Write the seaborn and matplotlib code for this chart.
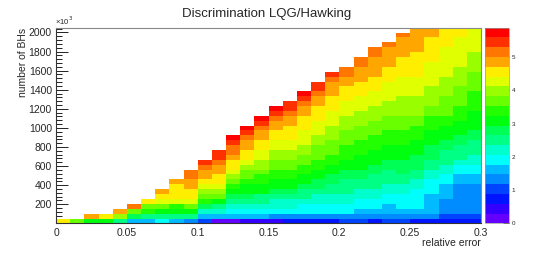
import colorsys
import numpy as np
import pandas as pd
import matplotlib
matplotlib.use('Agg')
import matplotlib.pyplot as plt
from matplotlib.colors import ListedColormap
from matplotlib.ticker import MultipleLocator, FixedLocator, FuncFormatter
import seaborn as sns

# binning of the 2D histogram
x_range = (0.0, 0.3)      # relative error
y_range = (0.0, 2050.0)   # number of BHs (x10^3)
n_xbins = 30
n_ybins = 40
z_max = 5.88
n_levels = 20

# colour level of each cell (0 = violet ... 19 = red), one list per x bin, bottom -> top
col_00 = [15]
col_01 = [12]
col_02 = [10, 16]
col_03 = [10, 15]
col_04 = [8, 13, 16]
col_05 = [5, 9, 12, 17]
col_06 = [5, 8, 11, 12, 15]
col_07 = [6, 8, 10, 12, 14, 15, 16]
col_08 = [5, 8, 10, 11, 14, 15, 15, 15, 16]
col_09 = [4, 8, 10, 12, 14, 15, 15, 16, 16, 17, 17]
col_10 = [3, 5, 7, 9, 11, 12, 13, 14, 15, 16, 16, 17, 18]
col_11 = [0, 5, 7, 8, 10, 12, 13, 14, 15, 15, 16, 16, 17, 18, 18]
col_12 = [0, 5, 6, 7, 8, 9, 10, 11, 12, 13, 14, 15, 15, 16, 17, 17, 18, 19]
col_13 = [1, 5, 6, 7, 8, 9, 10, 10, 11, 12, 12, 13, 14, 15, 15, 16, 16, 17, 18, 19]
col_14 = [1, 5, 6, 7, 8, 8, 10, 10, 11, 11, 12, 13, 13, 14, 14, 15, 15, 16, 16, 17,
          18, 19]
col_15 = [1, 4, 6, 7, 7, 8, 9, 10, 10, 11, 11, 12, 12, 13, 13, 14, 14, 15, 15, 16,
          16, 17, 18, 19]
col_16 = [2, 4, 6, 7, 7, 8, 9, 10, 10, 11, 11, 12, 12, 13, 13, 14, 14, 15, 15, 15,
          16, 16, 17, 18, 18]
col_17 = [2, 4, 6, 6, 7, 8, 8, 9, 10, 10, 11, 11, 12, 12, 13, 13, 14, 14, 14, 15,
          15, 15, 16, 16, 17, 18, 19]
col_18 = [2, 4, 6, 6, 7, 7, 8, 9, 9, 10, 10, 11, 11, 12, 12, 12, 13, 13, 14, 14,
          14, 15, 15, 15, 16, 16, 17, 18, 18]
col_19 = [2, 4, 6, 6, 7, 7, 8, 8, 9, 9, 10, 10, 11, 11, 12, 12, 12, 13, 13, 13,
          14, 14, 14, 15, 15, 15, 16, 16, 16, 17, 18]
col_20 = [3, 4, 6, 6, 7, 7, 8, 8, 8, 9, 9, 10, 10, 11, 11, 11, 12, 12, 12, 13,
          13, 13, 14, 14, 14, 15, 15, 15, 16, 16, 17, 17]
col_21 = [3, 4, 5, 6, 6, 7, 7, 8, 8, 9, 9, 10, 10, 10, 11, 11, 11, 12, 12, 12,
          13, 13, 13, 14, 14, 14, 15, 15, 15, 16, 16, 16, 17, 17]
col_22 = [2, 4, 5, 6, 6, 7, 7, 8, 8, 8, 9, 9, 10, 10, 10, 11, 11, 11, 12, 12,
          12, 13, 13, 13, 14, 14, 14, 15, 15, 15, 16, 16, 16, 16, 17, 17]
col_23 = [3, 4, 5, 5, 6, 6, 7, 7, 8, 8, 8, 9, 9, 10, 10, 10, 11, 11, 11, 12,
          12, 12, 13, 13, 13, 14, 14, 14, 14, 15, 15, 15, 16, 16, 16, 16, 17]
col_24 = [3, 4, 5, 6, 6, 6, 7, 7, 8, 8, 9, 9, 9, 10, 10, 10, 11, 11, 11, 12,
          12, 12, 13, 13, 13, 13, 14, 14, 14, 14, 15, 15, 15, 15, 16, 16, 16, 16, 17]
col_25 = [2, 4, 5, 6, 6, 6, 6, 7, 7, 8, 8, 9, 9, 9, 10, 10, 10, 11, 11, 11,
          12, 12, 13, 13, 13, 13, 14, 14, 14, 14, 15, 15, 15, 15, 15, 16, 16, 16, 16, 16]
col_26 = [2, 4, 5, 5, 5, 5, 6, 6, 6, 7, 7, 8, 8, 9, 9, 9, 10, 10, 10, 11,
          11, 11, 12, 12, 13, 13, 13, 13, 14, 14, 14, 14, 14, 15, 15, 15, 15, 15, 16, 16]
col_27 = [2, 3, 4, 4, 4, 5, 5, 5, 6, 6, 7, 7, 8, 8, 8, 9, 9, 10, 10, 10,
          11, 11, 12, 12, 12, 12, 13, 13, 13, 13, 14, 14, 14, 14, 14, 14, 15, 15, 15, 15]
col_28 = [2, 3, 4, 4, 4, 4, 4, 4, 5, 5, 6, 6, 7, 8, 8, 8, 9, 9, 10, 10,
          10, 11, 11, 11, 12, 12, 12, 12, 13, 13, 13, 13, 14, 14, 14, 14, 14, 14, 15, 15]
col_29 = [2, 3, 4, 4, 4, 4, 4, 4, 5, 5, 6, 6, 7, 7, 8, 8, 8, 9, 9, 10,
          10, 10, 10, 11, 11, 11, 11, 12, 12, 12, 12, 13, 13, 13, 13, 14, 14, 14, 14, 14]

levels = [col_00, col_01, col_02, col_03, col_04, col_05, col_06, col_07, col_08, col_09,
          col_10, col_11, col_12, col_13, col_14, col_15, col_16, col_17, col_18, col_19,
          col_20, col_21, col_22, col_23, col_24, col_25, col_26, col_27, col_28, col_29]

# one weighted entry per filled cell, at the centre of its bin
dx = (x_range[1] - x_range[0]) / n_xbins
dy = (y_range[1] - y_range[0]) / n_ybins
rows = []
for i, col in enumerate(levels):
    for j, lev in enumerate(col):
        rows.append((x_range[0] + (i + 0.5) * dx,
                     y_range[0] + (j + 0.5) * dy,
                     (lev + 0.5) * z_max / n_levels))
df = pd.DataFrame(rows, columns=['rel_err', 'n_bh', 'z'])


def root_palette(n):
    # old ROOT "pretty palette": 50 HLS hues violet -> red, sampled for n contours
    cols = []
    for k in range(n):
        j = int((k + 0.99) * 50 / n)
        hue = max(280 - (j + 1) * 5.6, 0)
        cols.append(colorsys.hls_to_rgb(hue / 360, 0.5, 1.0))
    return ListedColormap(cols)


sns.set_style('white')
plt.rcParams['font.family'] = ['Liberation Sans', 'DejaVu Sans']

W, H = 534, 259
fig = plt.figure(figsize=(W / 100, H / 100), dpi=100)
ax = fig.add_axes([56 / W, 1 - 223.4 / H, 425 / W, 195.7 / H])
cax = fig.add_axes([485 / W, 1 - 223.4 / H, 24.5 / W, 195.7 / H])

sns.histplot(data=df, x='rel_err', y='n_bh', weights='z',
             bins=(n_xbins, n_ybins), binrange=(x_range, y_range),
             cmap=root_palette(n_levels), vmin=0, vmax=z_max,
             cbar=True, cbar_ax=cax, ax=ax)

ax.set_xlim(x_range)
ax.set_ylim(y_range)

ax.xaxis.set_major_locator(MultipleLocator(0.05))
ax.xaxis.set_minor_locator(MultipleLocator(0.01))
ax.xaxis.set_major_formatter(FuncFormatter(lambda v, p: f'{v:g}'))
ax.yaxis.set_major_locator(FixedLocator(np.arange(200, 2001, 200)))
ax.yaxis.set_minor_locator(MultipleLocator(40))

ax.tick_params(axis='y', which='major', direction='in', left=True, length=8.6,
               width=0.7, labelsize=7.5, pad=3, color='#222')
ax.tick_params(axis='y', which='minor', direction='in', left=True, length=4.3,
               width=0.7, color='#222')
ax.tick_params(axis='x', which='major', direction='in', bottom=True, length=4.3,
               width=0.7, labelsize=7.5, pad=3.5, color='#222')
ax.tick_params(axis='x', which='minor', direction='in', bottom=True, length=2.2,
               width=0.7, color='#222')
for name, sp in ax.spines.items():
    sp.set_visible(True)
    sp.set_linewidth(0.8)
    sp.set_color('#333' if name in ('left', 'bottom') else '#888')

ax.set_xlabel('relative error', fontsize=7.5, loc='right')
ax.xaxis.set_label_coords(1.0, -0.075)
ax.set_ylabel('number of BHs', fontsize=7.5, loc='top')
ax.yaxis.set_label_coords(-0.066, 1.0)
ax.text(-0.002, 1.006, '×10$^{3}$', transform=ax.transAxes, fontsize=5.5,
        ha='left', va='bottom')

fig.text(0.5, 1 - 16.7 / H, 'Discrimination LQG/Hawking', ha='center',
         va='baseline', fontsize=9.5)

cbar = ax.collections[0].colorbar
cbar.set_ticks([0, 1, 2, 3, 4, 5])
cbar.outline.set_edgecolor('#999')
cbar.outline.set_linewidth(0.5)
cax.tick_params(direction='in', right=True, left=False, length=4, width=0.7,
                labelsize=4.5, pad=1.5, color='#222')

fig.savefig('out.png', dpi=100)
